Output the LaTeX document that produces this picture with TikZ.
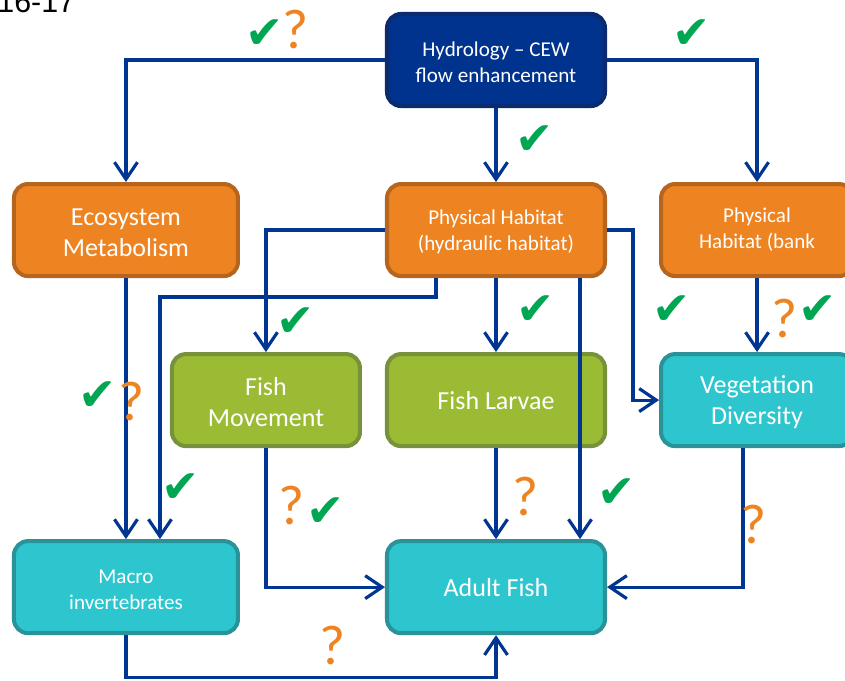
\documentclass[tikz,border=0pt]{standalone}
\usepackage{fontspec}
\setmainfont{Carlito}
\newfontfamily\tickfont{DejaVu Sans}
\newfontfamily\pagefont{Liberation Sans}
\usetikzlibrary{positioning,arrows.meta}

\definecolor{flowblue}{HTML}{003591}
\definecolor{hydfill}{HTML}{00338D}
\definecolor{hydline}{HTML}{0B2B6E}
\definecolor{physfill}{HTML}{EE8322}
\definecolor{physline}{HTML}{B5651E}
\definecolor{fishfill}{HTML}{9ABB33}
\definecolor{fishline}{HTML}{77923B}
\definecolor{biofill}{HTML}{2EC6CE}
\definecolor{bioline}{HTML}{2A9399}
\definecolor{tickgreen}{HTML}{00A651}

\begin{document}
\begin{tikzpicture}[
    node distance=1.48cm,
    box/.style={rectangle, rounded corners=0.28cm, draw, line width=2.3pt, minimum height=1.84cm, align=center, text=white, inner sep=2pt},
    driver/.style={box, fill=hydfill, draw=hydline, minimum width=4.36cm, font=\fontsize{12}{14.8}\selectfont},
    habitat/.style={box, fill=physfill, draw=physline},
    fish/.style={box, fill=fishfill, draw=fishline},
    biota/.style={box, fill=biofill, draw=bioline},
    big/.style={font=\fontsize{14.8}{18}\selectfont},
    small/.style={font=\fontsize{12}{14.8}\selectfont},
    arrow/.style={-{Straight Barb[length=0.34cm, width=0.46cm]}, line width=1.8pt, draw=flowblue},
    ok/.style={text=tickgreen, font=\tickfont\fontsize{26}{26}\selectfont, inner sep=0pt},
    unsure/.style={text=physfill, font=\fontsize{32}{32}\selectfont, inner sep=0pt}
]
    \clip (0,0) rectangle (16.9,-13.6);

    % Slide number
    \node[anchor=base west, inner sep=0pt, font=\pagefont\fontsize{17.3}{17.3}\selectfont] (slide) at (-0.06,-0.26) {16-17};

    % Driver
    \node[driver] (hyd) at (9.92,-1.2) {\strut Hydrology -- CEW\\flow enhancement};

    % Habitat responses
    \node[habitat, small, minimum width=4.36cm, below=of hyd] (phh) {\strut Physical Habitat\\(hydraulic habitat)};
    \node[habitat, big, minimum width=4.48cm, left=2.9cm of phh] (eco) {\strut Ecosystem\\Metabolism};
    \node[habitat, small, minimum width=3.84cm, right=1.04cm of phh] (phb) {Physical\\Habitat (bank};

    % Fish and vegetation
    \node[fish, big, minimum width=4.36cm, below=of phh] (flv) {Fish Larvae};
    \node[fish, big, minimum width=3.76cm, left=0.46cm of flv] (fmv) {\strut Fish\\Movement};
    \node[biota, big, minimum width=3.84cm, below=of phb] (veg) {\strut Vegetation\\Diversity};

    % Outcomes
    \node[biota, big, minimum width=4.36cm, below=1.82cm of flv] (adf) {Adult Fish};
    \node[biota, small, minimum width=4.48cm, left=2.9cm of adf] (mac) {\strut Macro\\invertebrates};

    % Links
    \draw[arrow] (hyd.west) -| (eco.north);
    \draw[arrow] (hyd) -- (phh);
    \draw[arrow] (hyd.east) -| (phb.north);
    \draw[arrow] (phh.west) -| (fmv.north);
    \draw[arrow] ([xshift=-1.2cm]phh.south) -- ++(0,-0.38) -| ([xshift=0.68cm]mac.north);
    \draw[arrow] (phh) -- (flv);
    \draw[arrow] ([xshift=1.68cm]phh.south) -- ([xshift=1.68cm]adf.north);
    \draw[arrow] (phh.east) -- ++(0.52,0) |- (veg.west);
    \draw[arrow] (phb) -- (veg);
    \draw[arrow] (eco) -- (mac);
    \draw[arrow] (fmv.south) |- (adf.west);
    \draw[arrow] (flv) -- (adf);
    \draw[arrow] ([xshift=-0.28cm]veg.south) |- (adf.east);
    \draw[arrow] (mac.south) -- ++(0,-0.84) -| (adf.south);

    % Evidence marks
    \node[ok] (ok1) at (5.3,-0.68) {✔};
    \node[unsure] (q1) at (5.92,-0.58) {?};
    \node[ok] (ok2) at (13.84,-0.68) {✔};
    \node[ok] (ok3) at (10.7,-2.8) {✔};
    \node[ok] (ok4) at (5.92,-6.44) {✔};
    \node[ok] (ok5) at (10.72,-6.2) {✔};
    \node[ok] (ok6) at (13.44,-6.2) {✔};
    \node[unsure] (q2) at (15.7,-6.36) {?};
    \node[ok] (ok7) at (16.36,-6.2) {✔};
    \node[ok] (ok8) at (1.96,-7.92) {✔};
    \node[unsure] (q3) at (2.64,-8.02) {?};
    \node[ok] (ok9) at (3.62,-9.76) {✔};
    \node[unsure] (q4) at (5.84,-10.1) {?};
    \node[ok] (ok10) at (6.52,-10.24) {✔};
    \node[unsure] (q5) at (10.52,-9.92) {?};
    \node[ok] (ok11) at (12.34,-9.86) {✔};
    \node[unsure] (q6) at (15.08,-10.48) {?};
    \node[unsure] (q7) at (6.66,-12.9) {?};
\end{tikzpicture}
\end{document}
